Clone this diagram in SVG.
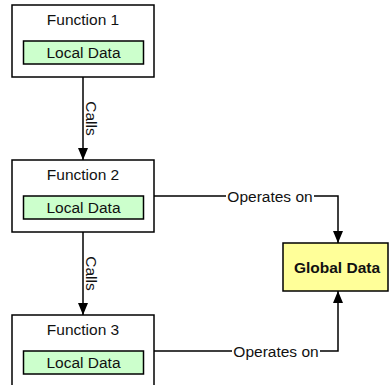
<svg xmlns="http://www.w3.org/2000/svg" width="389" height="385" viewBox="0 0 389 385">
<style>
  .func { fill: #ffffff; stroke: #000; stroke-width: 1.5; }
  .local { fill: #ccffcc; stroke: #000; stroke-width: 1.5; }
  .global { fill: #ffff99; stroke: #000; stroke-width: 1.5; }
  text { font-family: "Liberation Sans", Arial, sans-serif; font-size: 15.5px; fill: #111; }
  .bold { font-weight: bold; }
  .conn { fill: none; stroke: #000; stroke-width: 1.5; }
  .lbl { fill: #ffffff; stroke: none; }
</style>
<defs>
  <marker id="arrow" viewBox="0 0 10 10" refX="10" refY="5" markerWidth="8" markerHeight="8" markerUnits="userSpaceOnUse" orient="auto">
    <path d="M0,0 L10,5 L0,10 z" fill="#000"/>
  </marker>
  <marker id="arrowL" viewBox="0 0 12 10" refX="12" refY="5" markerWidth="13" markerHeight="10" markerUnits="userSpaceOnUse" orient="auto">
    <path d="M0,0 L12,5 L0,10 z" fill="#000"/>
  </marker>
</defs>

<g id="connectors">
  <line class="conn" x1="83" y1="77" x2="83" y2="160" marker-end="url(#arrowL)"/>
  <line class="conn" x1="83" y1="232" x2="83" y2="315" marker-end="url(#arrowL)"/>
  <polyline class="conn" points="154,196 338,196 338,243" marker-end="url(#arrowL)"/>
  <polyline class="conn" points="154,351 338,351 338,291" marker-end="url(#arrowL)"/>
  <text x="86" y="118.5" text-anchor="middle" transform="rotate(90 86 118.5)" dy="0">Calls</text>
  <text x="86" y="273.5" text-anchor="middle" transform="rotate(90 86 273.5)">Calls</text>
  <rect class="lbl" x="226" y="188" width="88" height="16"/>
  <text x="270" y="201.5" text-anchor="middle">Operates on</text>
  <rect class="lbl" x="232" y="343" width="88" height="16"/>
  <text x="276" y="356.5" text-anchor="middle">Operates on</text>
</g>

<g id="function1">
  <rect class="func" x="12" y="5" width="142" height="72"/>
  <text x="83" y="24.5" text-anchor="middle">Function 1</text>
  <rect class="local" x="23.5" y="41" width="120" height="23"/>
  <text x="83.5" y="58" text-anchor="middle">Local Data</text>
</g>

<g id="function2">
  <rect class="func" x="12" y="160" width="142" height="72"/>
  <text x="83" y="179.5" text-anchor="middle">Function 2</text>
  <rect class="local" x="23.5" y="196" width="120" height="23"/>
  <text x="83.5" y="213" text-anchor="middle">Local Data</text>
</g>

<g id="function3">
  <rect class="func" x="12" y="315" width="142" height="72"/>
  <text x="83" y="334.5" text-anchor="middle">Function 3</text>
  <rect class="local" x="23.5" y="351" width="120" height="23"/>
  <text x="83.5" y="368" text-anchor="middle">Local Data</text>
</g>

<g id="global">
  <rect class="global" x="283" y="243" width="105" height="48"/>
  <text class="bold" x="337" y="272.5" text-anchor="middle">Global Data</text>
</g>
</svg>
